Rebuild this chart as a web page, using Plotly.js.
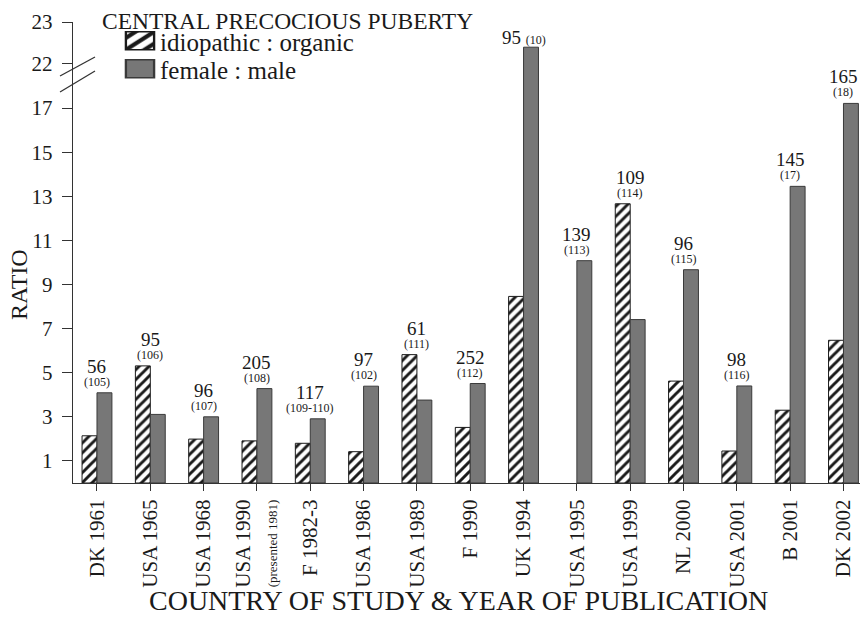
<!DOCTYPE html>
<html><head><meta charset="utf-8">
<script src="https://cdn.plot.ly/plotly-3.0.1.min.js"></script>
<style>html,body{margin:0;padding:0;background:#fff}#chart{width:860px;height:636px}</style>
</head><body><div id="chart"></div>
<script>
const categories = ['DK 1961','USA 1965','USA 1968','USA 1990','F 1982-3','USA 1986','USA 1989','F 1990','UK 1994','USA 1995','USA 1999','NL 2000','USA 2001','B 2001','DK 2002'];
const tickLabels = ['DK 1961','USA 1965','USA 1968','USA 1990<br><span style="font-size:13px">(presented 1981)</span>','F 1982-3','USA 1986','USA 1989','F 1990','UK 1994','USA 1995','USA 1999','NL 2000','USA 2001','B 2001','DK 2002'];
const idiopathicOrganic = [2.14, 5.31, 1.99, 1.91, 1.80, 1.42, 5.82, 2.52, 8.46, null, 12.66, 4.62, 1.45, 3.30, 6.47];
const femaleMale = [4.09, 3.11, 3.00, 4.28, 2.91, 4.39, 3.76, 4.51, 22.4, 10.08, 7.41, 9.67, 4.40, 13.45, 17.21];
const patientCounts = ['56','95','96','205','117','97','61','252','95','139','109','96','98','145','165'];
const references = ['105','106','107','108','109-110','102','111','112','10','113','114','115','116','17','18'];
const lowerTicks = [1,3,5,7,9,11,13,15,17];
const upperTicks = [22,23];
const lowerRange = [0, 18.0];
const upperRange = [21.476, 23];
const legendTitle = 'CENTRAL PRECOCIOUS PUBERTY';
const xTitle = 'COUNTRY OF STUDY &amp; YEAR OF PUBLICATION';
const yTitle = 'RATIO';

const FONT = 'Liberation Serif';
const INK = '#1a1a1a';
const hatch = {color:'white', line:{color:INK, width:1}, pattern:{shape:'/', fgcolor:INK, bgcolor:'white', size:7, solidity:0.42}};
const solid = {color:'#777777', line:{color:'#3a3a3a', width:1}};

const traces = [
  {type:'bar', name:'idiopathic : organic', x:categories, y:idiopathicOrganic, marker:hatch, xaxis:'x', yaxis:'y', legend:'legend', hoverinfo:'skip'},
  {type:'bar', name:'female : male', x:categories, y:femaleMale, marker:solid, xaxis:'x', yaxis:'y', legend:'legend2', hoverinfo:'skip'},
  {type:'bar', name:'idiopathic : organic', x:categories, y:idiopathicOrganic, marker:hatch, xaxis:'x', yaxis:'y2', showlegend:false, hoverinfo:'skip'},
  {type:'bar', name:'female : male', x:categories, y:femaleMale, marker:solid, xaxis:'x', yaxis:'y2', showlegend:false, hoverinfo:'skip'}
];

// pixel -> paper helpers (plot area: left 73, width 787, bottom 483, height 461)
const px = v => (v - 73) / 787;
const py = v => (483 - v) / 461;

const annotations = [];
categories.forEach((c, i) => {
  const top = Math.max(idiopathicOrganic[i] || 0, femaleMale[i] || 0);
  const onUpper = top > lowerRange[1];
  const yref = onUpper ? 'y2' : 'y';
  if (onUpper) {
    annotations.push({x:c, y:top, xref:'x', yref:yref, yanchor:'bottom', yshift:-3, showarrow:false,
      text: patientCounts[i] + ' <span style="font-size:12px">(' + references[i] + ')</span>',
      font:{family:FONT, size:19, color:INK}});
  } else {
    annotations.push({x:c, y:top, xref:'x', yref:yref, yanchor:'bottom', yshift:2, showarrow:false,
      text:'(' + references[i] + ')', font:{family:FONT, size:12, color:INK}});
    annotations.push({x:c, y:top, xref:'x', yref:yref, yanchor:'bottom', yshift:14, showarrow:false,
      text:patientCounts[i], font:{family:FONT, size:19, color:INK}});
  }
});
annotations.push({xref:'paper', yref:'paper', x:px(100), xanchor:'left', y:py(21), yanchor:'middle',
  showarrow:false, text:legendTitle, font:{family:FONT, size:23.5, color:INK}});
annotations.push({xref:'paper', yref:'paper', x:px(458), xanchor:'center', y:py(600), yanchor:'middle',
  showarrow:false, text:xTitle, font:{family:FONT, size:28, color:INK}});
annotations.push({xref:'paper', yref:'paper', x:px(19), xanchor:'center', y:py(284), yanchor:'middle', textangle:-90,
  showarrow:false, text:yTitle, font:{family:FONT, size:24, color:INK}});

const breakLine = (x0,y0,x1,y1) => ({type:'line', xref:'paper', yref:'paper', x0, y0, x1, y1, line:{color:'#333', width:1.3}});
const legendItem = (yc) => ({x:px(120), xanchor:'left', y:py(yc), yanchor:'middle', bgcolor:'rgba(0,0,0,0)',
  font:{family:FONT, size:25, color:INK}});

const layout = {
  width:860, height:636,
  margin:{l:73, r:0, t:22, b:153},
  paper_bgcolor:'white', plot_bgcolor:'white',
  font:{family:FONT, color:INK},
  barmode:'group', bargap:0.44, bargroupgap:0,
  showlegend:true,
  legend:legendItem(41),
  legend2:legendItem(69),
  xaxis:{type:'category', categoryarray:categories, range:[-0.45, 14.31], anchor:'y',
    tickmode:'array', tickvals:categories, ticktext:tickLabels, tickangle:-90,
    tickfont:{family:FONT, size:21, color:INK}, ticks:'outside', ticklen:7, tickcolor:'#333',
    showline:true, linecolor:'#333', linewidth:1.2, showgrid:false, zeroline:false},
  yaxis:{domain:[0, 0.8612], range:lowerRange, anchor:'x', tickmode:'array', tickvals:lowerTicks,
    tickfont:{family:FONT, size:21, color:INK}, ticks:'outside', ticklen:10, tickcolor:'#333', ticklabelstandoff:5,
    showline:true, linecolor:'#333', linewidth:1.2, showgrid:false, zeroline:false},
  yaxis2:{domain:[0.8612, 1], range:upperRange, anchor:'x', tickmode:'array', tickvals:upperTicks,
    tickfont:{family:FONT, size:21, color:INK}, ticks:'outside', ticklen:10, tickcolor:'#333', ticklabelstandoff:5,
    showline:true, linecolor:'#333', linewidth:1.2, showgrid:false, zeroline:false},
  annotations:annotations,
  shapes:[breakLine(px(60), py(76), px(95), py(57)), breakLine(px(60), py(92), px(95), py(71))]
};

Plotly.newPlot('chart', traces, layout, {displayModeBar:false, staticPlot:true}).then(gd => {
  gd.querySelectorAll('.legendpoints path').forEach(p => {
    const t = p.getAttribute('transform') || '';
    p.setAttribute('transform', (t + ' scale(2.35,1.5)').trim());
  });
});
</script></body></html>
